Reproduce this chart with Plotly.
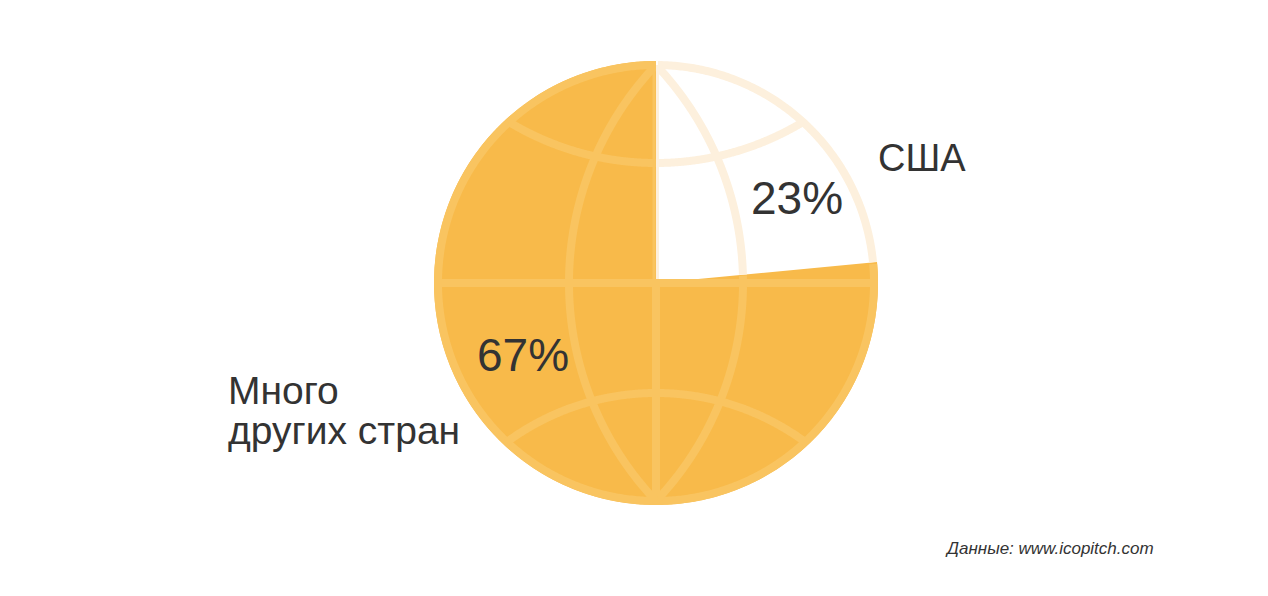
import numpy as np
import plotly.graph_objects as go

# данные
labels = ["США", "Много других стран"]
shares = [23.5, 76.5]          # доля круга
pct_text = ["23%", "67%"]
source = "Данные: www.icopitch.com"

W, H = 1268, 596
cx, cy, R = 656, 283, 222
rim = R - 4
lw = 8

orange = "#F8BA4A"
grid_on_orange = "#F9C460"
grid_on_white = "#FDF0DD"

usa_end = 360 * shares[0] / sum(shares)


def in_usa(x, y):
    th = np.degrees(np.arctan2(x - cx, -(y - cy))) % 360
    return (th > 0.01) & (th < usa_end)


def to_paths(x, y):
    # разбить линию на куски по цвету фона
    mask = in_usa(x, y)
    out = {True: [], False: []}
    start = 0
    for i in range(1, len(x) + 1):
        if i == len(x) or mask[i] != mask[start]:
            if i - start > 1:
                seg = " L ".join(f"{x[j]:.2f},{y[j]:.2f}" for j in range(start, i))
                out[bool(mask[start])].append("M " + seg)
            start = i
    return out


curves = []

# контур
t = np.linspace(0, 2 * np.pi, 721)
curves.append((cx + rim * np.sin(t), cy - rim * np.cos(t)))

# экватор
xs = np.linspace(cx - rim, cx + rim, 300)
curves.append((xs, np.full_like(xs, cy)))

# центральный меридиан (нижняя половина, верх отдельно по границе)
ys = np.linspace(cy, cy + rim, 200)
curves.append((np.full_like(ys, cx), ys))

# боковые меридианы — дуги окружностей
a = 87
Rc = (rim ** 2 + a ** 2) / (2 * a)
ys = np.linspace(cy - rim, cy + rim, 500)
dy = ys - cy
for s in (1, -1):
    xc = cx + s * (a - Rc)
    curves.append((xc + s * np.sqrt(Rc ** 2 - dy ** 2), ys))

# параллели
for h_m, h_e, s in ((120, 161, -1), (110, 159, 1)):
    w = np.sqrt(rim ** 2 - h_e ** 2)
    sag = h_e - h_m
    Rp = (w ** 2 + sag ** 2) / (2 * sag)
    xs = np.linspace(cx - w, cx + w, 400)
    yc = cy + s * (h_m + Rp)
    curves.append((xs, yc - s * np.sqrt(Rp ** 2 - (xs - cx) ** 2)))

shapes = []
for x, y in curves:
    parts = to_paths(x, y)
    for key, col in ((False, grid_on_orange), (True, grid_on_white)):
        for p in parts[key]:
            shapes.append(dict(type="path", path=p, xref="x", yref="y",
                               line=dict(color=col, width=lw), layer="above"))

# верх центрального меридиана лежит на границе долей
for dx, col in ((-2, grid_on_orange), (1.5, grid_on_white)):
    shapes.append(dict(type="line", x0=cx + dx, x1=cx + dx, y0=cy - rim, y1=cy - lw / 2,
                       xref="x", yref="y", line=dict(color=col, width=3), layer="above"))

fig = go.Figure()
fig.add_trace(go.Pie(
    labels=labels, values=shares, sort=False, direction="clockwise", rotation=0,
    marker=dict(colors=["#FFFFFF", orange], line=dict(width=0)),
    textinfo="none", hoverinfo="skip", showlegend=False,
    domain=dict(x=[(cx - R) / W, (cx + R) / W], y=[1 - (cy + R) / H, 1 - (cy - R) / H]),
))
# невидимые оси в пикселях для сетки и подписей
fig.add_trace(go.Scatter(x=[0, W], y=[0, H], mode="markers",
                         marker=dict(opacity=0), hoverinfo="skip", showlegend=False))

dark = "#333333"
font = "Liberation Sans, Arial, sans-serif"
annotations = [
    dict(x=797, y=198, text=pct_text[0], xanchor="center", yanchor="middle",
         font=dict(size=46, color=dark, family=font)),
    dict(x=523, y=355, text=pct_text[1], xanchor="center", yanchor="middle",
         font=dict(size=46, color=dark, family=font)),
    dict(x=876, y=158, text=labels[0], xanchor="left", yanchor="middle",
         font=dict(size=38, color=dark, family=font)),
    dict(x=226, y=390, text="Много", xanchor="left", yanchor="middle",
         font=dict(size=39, color=dark, family=font)),
    dict(x=226, y=430, text="других стран", xanchor="left", yanchor="middle",
         font=dict(size=39, color=dark, family=font)),
    dict(x=1156, y=548, text=f"<i>{source}</i>", xanchor="right", yanchor="middle",
         font=dict(size=17, color=dark, family=font)),
]
for an in annotations:
    an.update(xref="x", yref="y", showarrow=False)

fig.update_layout(
    width=W, height=H,
    margin=dict(l=0, r=0, t=0, b=0),
    paper_bgcolor="white", plot_bgcolor="rgba(0,0,0,0)",
    xaxis=dict(range=[0, W], visible=False, fixedrange=True),
    yaxis=dict(range=[H, 0], visible=False, fixedrange=True),
    shapes=shapes, annotations=annotations,
)

fig.write_html("out.html", config={"displayModeBar": False},
               post_script="document.body.style.margin='0';")
